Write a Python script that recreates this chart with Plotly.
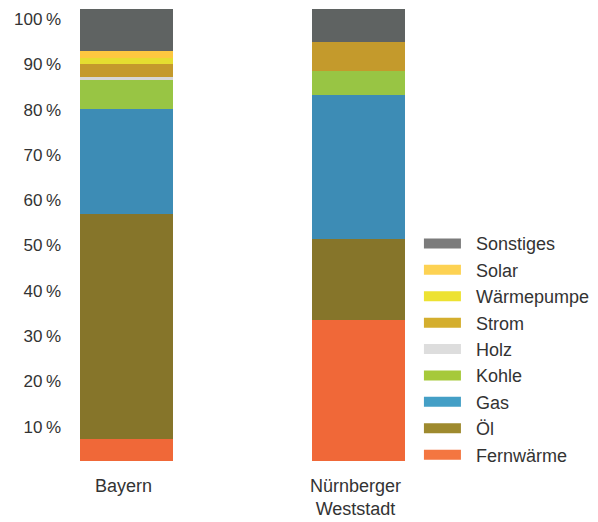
import plotly.graph_objects as go

categories = ["Bayern", "Nürnberger<br>Weststadt"]
series_names = ["Fernwärme", "Öl", "Gas", "Kohle", "Holz", "Strom", "Wärmepumpe", "Solar", "Sonstiges"]
bayern_values = [4.9, 49.6, 23.2, 6.4, 0.6, 2.9, 1.3, 1.6, 9.3]
weststadt_values = [31.1, 18.0, 31.6, 5.5, 0.0, 6.2, 0.0, 0.0, 7.4]
bar_colors = ["#f06838", "#86752a", "#3d8cb5", "#98c544", "#d6d6d6", "#c49a2c", "#e5de30", "#fdc840", "#5f6362"]
legend_colors = ["#f47640", "#9e8a2e", "#449fc6", "#a6c93a", "#dddddd", "#d4ae2e", "#ede232", "#fdd253", "#7b7b7b"]
tick_values = [10, 20, 30, 40, 50, 60, 70, 80, 90, 100]
tick_labels = [f"{v}\u2009%" for v in tick_values]

label_shift = 2.43  # tick labels sit slightly below their gridline position in the original

fig = go.Figure()
for i, name in enumerate(series_names):
    fig.add_trace(go.Bar(
        x=categories, y=[bayern_values[i], weststadt_values[i]],
        name=name, marker=dict(color=bar_colors[i], line=dict(width=0)),
        showlegend=False, legendgroup=name,
    ))
for i, name in enumerate(series_names):
    fig.add_trace(go.Scatter(
        x=[None], y=[None], mode="lines", name="\u00a0\u00a0" + name, legendgroup=name,
        line=dict(color=legend_colors[i], width=14),
    ))

fig.update_layout(
    width=590, height=514,
    barmode="stack", bargap=0.6,
    paper_bgcolor="white", plot_bgcolor="rgba(0,0,0,0)",
    font=dict(family="Liberation Sans, Arial, sans-serif", size=18, color="#333333"),
    margin=dict(l=54, r=178, t=0, b=61),
    xaxis=dict(range=[-0.278, 1.265], showgrid=False, zeroline=False, showline=False,
               ticks="", tickfont=dict(size=18), ticklabelstandoff=12, ticklabelshift=-3),
    yaxis=dict(range=[0, 100], showgrid=False, zeroline=False, showline=False,
               tickvals=[v - label_shift for v in tick_values], ticktext=tick_labels,
               ticks="", tickfont=dict(size=17)),
    legend=dict(x=0.997, xanchor="left", y=-0.027, yanchor="bottom", traceorder="reversed",
                itemwidth=37, font=dict(size=18), bgcolor="rgba(0,0,0,0)"),
    showlegend=True,
)

fig.write_html("out.html")
